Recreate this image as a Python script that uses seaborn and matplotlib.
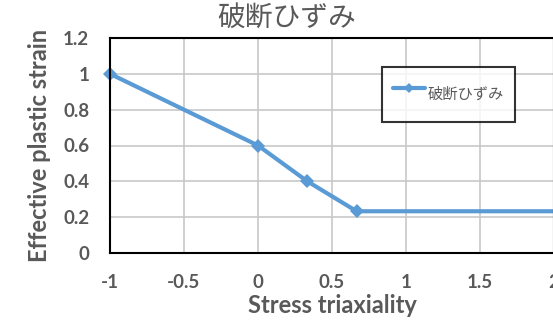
import numpy as np
import seaborn as sns
import matplotlib.pyplot as plt
import pandas as pd

# data
triaxiality = [-1.0, 0.0, 1/3, 2/3, 2.0]
strain = [1.0, 0.6, 0.4, 0.233, 0.233]
series_name = "破断ひずみ"
x_ticks = [-1, -0.5, 0, 0.5, 1, 1.5, 2]
x_tick_labels = ["-1", "-0.5", "0", "0.5", "1", "1.5", "2"]
y_ticks = [0, 0.2, 0.4, 0.6, 0.8, 1.0, 1.2]
y_tick_labels = ["0", "0.2", "0.4", "0.6", "0.8", "1", "1.2"]

df = pd.DataFrame({"x": triaxiality, "y": strain})

sns.set_style("white")
plt.rcParams['font.family'] = ['Lato', 'Noto Sans CJK JP', 'DejaVu Sans']
gray = "#595959"
blue = "#5B9BD5"

fig = plt.figure(figsize=(5.53, 3.22), dpi=100)
ax = fig.add_axes([110/553, 69/322, 444/553, 215/322])

sns.lineplot(data=df, x="x", y="y", ax=ax, color=blue, linewidth=3,
             marker="D", markersize=7, markeredgewidth=0, label=series_name,
             markevery=[0, 1, 2, 3], clip_on=False)

ax.set_xlim(-1, 2)
ax.set_ylim(0, 1.2)
ax.set_xticks(x_ticks)
ax.set_xticklabels(x_tick_labels)
ax.set_yticks(y_ticks)
ax.set_yticklabels(y_tick_labels)
ax.tick_params(axis="x", length=0, labelsize=13.5, labelcolor=gray, pad=15)
ax.tick_params(axis="y", length=0, labelsize=13.5, labelcolor=gray, pad=15)
for lab in ax.get_xticklabels() + ax.get_yticklabels():
    lab.set_fontweight("bold")

ax.grid(True, color="#c8c8c8", linewidth=1.2)
ax.set_axisbelow(True)
for s in ax.spines.values():
    s.set_color("black")
    s.set_linewidth(1.5)
    s.set_visible(True)

ax.set_xlabel("Stress triaxiality", fontsize=17, fontweight="bold", color=gray, labelpad=2)
ax.set_ylabel("Effective plastic strain", fontsize=17, fontweight="bold", color=gray, labelpad=9)
fig.text(287/553, 1 - 18/322, series_name, ha="center", va="center",
         fontsize=20, color=gray, family=['Noto Sans CJK JP', 'DejaVu Sans'])

leg = ax.legend(loc="upper left", bbox_to_anchor=((382-110)/444, (253-67)/215),
                frameon=True, fancybox=False, borderpad=0.7, handlelength=2.1,
                handleheight=3.0, handletextpad=0.2, borderaxespad=0,
                prop={'family': ['Noto Sans CJK JP', 'DejaVu Sans'], 'size': 11})
leg.get_frame().set_edgecolor("black")
leg.get_frame().set_linewidth(1.5)
for t in leg.get_texts():
    t.set_color(gray)
for h in leg.legend_handles:
    h.set_markersize(5)

fig.savefig("out.png", dpi=100)
